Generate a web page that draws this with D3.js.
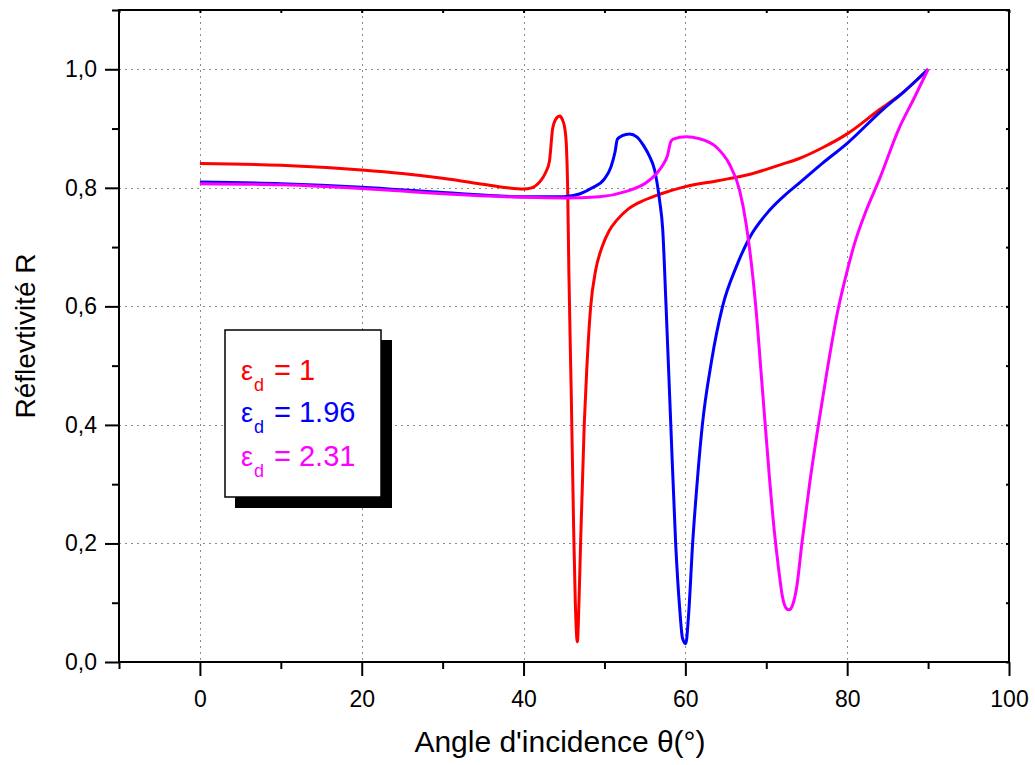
<!DOCTYPE html>
<html>
<head>
<meta charset="utf-8">
<script src="https://cdn.jsdelivr.net/npm/d3@7"></script>
<style>
  html, body { margin: 0; padding: 0; background: #fff; }
  svg { display: block; font-family: "Liberation Sans", Arial, sans-serif; }
</style>
</head>
<body>
<svg id="chart" width="1035" height="765"></svg>
<script>
// ---- Data ----
const thetaRed = [0, 10, 20, 25, 30, 35, 38, 40, 41, 42, 42.7, 43.2, 43.6, 44.1, 44.5, 44.8, 45.1, 45.3, 45.45, 45.6, 45.9, 46.2, 46.4, 46.65, 46.85, 47.05, 47.5, 47.8, 48.3, 48.9, 49.7, 50.6, 51.5, 53, 54.9, 57, 60, 64, 68, 72, 74, 77, 80, 84, 87, 90];
const rRed     = [0.841, 0.838, 0.830, 0.824, 0.816, 0.806, 0.800, 0.798, 0.800, 0.810, 0.825, 0.845, 0.900, 0.918, 0.921, 0.915, 0.900, 0.870, 0.800, 0.660, 0.450, 0.220, 0.100, 0.034, 0.100, 0.200, 0.400, 0.490, 0.600, 0.660, 0.700, 0.728, 0.745, 0.765, 0.779, 0.790, 0.802, 0.812, 0.823, 0.840, 0.849, 0.868, 0.891, 0.932, 0.962, 1.000];

const thetaBlue = [0, 10, 20, 30, 40, 45, 47, 48.5, 50, 50.8, 51.3, 51.6, 52.2, 53.1, 54.0, 54.8, 55.5, 56.2, 56.8, 57.2, 57.6, 58.2, 58.8, 59.3, 59.65, 60.05, 60.4, 60.9, 61.5, 62.1, 63.2, 64.6, 66.3, 67.9, 70.4, 72.5, 74, 77, 80, 84.4, 87, 90];
const rBlue     = [0.810, 0.807, 0.801, 0.792, 0.785, 0.785, 0.790, 0.800, 0.815, 0.835, 0.860, 0.882, 0.888, 0.891, 0.886, 0.872, 0.855, 0.830, 0.780, 0.730, 0.605, 0.400, 0.200, 0.090, 0.040, 0.031, 0.080, 0.200, 0.310, 0.400, 0.505, 0.600, 0.667, 0.715, 0.762, 0.790, 0.807, 0.842, 0.875, 0.932, 0.962, 1.000];

const thetaMagenta = [0, 10, 20, 30, 40, 45, 49.4, 52.7, 55.1, 56.5, 57.2, 57.8, 58.2, 58.5, 60.1, 61.7, 63.8, 65.4, 66.7, 67.5, 68.7, 69.5, 70.4, 71.0, 71.5, 72.0, 72.5, 72.8, 73.3, 73.8, 74.4, 75.4, 76.5, 77.5, 78.8, 80, 81, 82.3, 84, 86.4, 88.3, 90];
const rMagenta     = [0.807, 0.805, 0.799, 0.790, 0.784, 0.783, 0.785, 0.794, 0.808, 0.825, 0.838, 0.855, 0.878, 0.882, 0.886, 0.883, 0.869, 0.841, 0.796, 0.740, 0.600, 0.464, 0.310, 0.220, 0.160, 0.110, 0.090, 0.088, 0.098, 0.130, 0.200, 0.305, 0.405, 0.490, 0.590, 0.660, 0.710, 0.760, 0.815, 0.900, 0.952, 1.000];

const seriesNames  = ["1", "1.96", "2.31"];
const seriesColors = ["#ff0000", "#0000ff", "#ff00ff"];

const xMajorTicks = [0, 20, 40, 60, 80, 100];
const xMinorTicks = [-10, 10, 30, 50, 70, 90];
const yMajorTicks = [0, 0.2, 0.4, 0.6, 0.8, 1.0];
const yMinorTicks = [0.1, 0.3, 0.5, 0.7, 0.9, 1.1];
const yTickLabels = ["0,0", "0,2", "0,4", "0,6", "0,8", "1,0"];

const xTitle = "Angle d'incidence θ(°)";
const yTitle = "Réflevtivité R";

// ---- Layout ----
const svg = d3.select("#chart");
const L = 119, R = 1009, T = 10, B = 662;

const x = d3.scaleLinear().domain([-10, 100]).range([L, R]);
const y = d3.scaleLinear().domain([0, 1.1]).range([B, T]);

// grid
const grid = svg.append("g").attr("stroke", "#8a8a8a").attr("stroke-width", 1).attr("stroke-dasharray", "2,4");
grid.selectAll("line.vx").data(xMajorTicks.filter(d => d > -10 && d < 100)).enter().append("line")
  .attr("x1", d => Math.round(x(d)) + 0.5).attr("x2", d => Math.round(x(d)) + 0.5)
  .attr("y1", T).attr("y2", B);
grid.selectAll("line.hy").data(yMajorTicks.filter(d => d > 0)).enter().append("line")
  .attr("y1", d => Math.round(y(d)) + 0.5).attr("y2", d => Math.round(y(d)) + 0.5)
  .attr("x1", L).attr("x2", R);

// curves
const xs = [thetaRed, thetaBlue, thetaMagenta];
const ys = [rRed, rBlue, rMagenta];
const line = d3.line().x(d => x(d[0])).y(d => y(d[1])).curve(d3.curveMonotoneX);
[0, 1, 2].forEach(i => {
  const pts = xs[i].map((t, j) => [t, ys[i][j]]);
  svg.append("path").datum(pts)
    .attr("fill", "none").attr("stroke", seriesColors[i])
    .attr("stroke-width", 3).attr("stroke-linejoin", "round")
    .attr("d", line);
});

// axes
svg.append("g").attr("transform", `translate(0,${B})`)
  .call(d3.axisBottom(x).tickValues(xMajorTicks).tickSize(14).tickPadding(15).tickFormat(d3.format("d")));
svg.append("g").attr("transform", `translate(0,${B})`)
  .call(d3.axisBottom(x).tickValues(xMinorTicks).tickSize(7).tickFormat(""));
svg.append("g").attr("transform", `translate(${L},0)`)
  .call(d3.axisLeft(y).tickValues(yMajorTicks).tickSize(14).tickPadding(8).tickFormat((d, i) => yTickLabels[i]));
svg.append("g").attr("transform", `translate(${L},0)`)
  .call(d3.axisLeft(y).tickValues(yMinorTicks).tickSize(7).tickFormat(""));
svg.append("g").attr("transform", `translate(0,${T})`)
  .call(d3.axisBottom(x).tickValues(xMajorTicks.concat(xMinorTicks)).tickSize(3).tickFormat(""));
svg.append("g").attr("transform", `translate(${R},0)`)
  .call(d3.axisLeft(y).tickValues(yMajorTicks.concat(yMinorTicks)).tickSize(3).tickFormat(""));

svg.selectAll(".domain").remove();
svg.selectAll(".tick line").attr("stroke", "#000").attr("stroke-width", 2);
svg.selectAll(".tick text").attr("font-family", "Liberation Sans, Arial, sans-serif").attr("font-size", 23).attr("fill", "#000");

// frame
svg.append("rect").attr("x", L).attr("y", T).attr("width", R - L).attr("height", B - T)
  .attr("fill", "none").attr("stroke", "#000").attr("stroke-width", 2);

// axis titles
svg.append("text").attr("x", 560).attr("y", 752).attr("text-anchor", "middle")
  .attr("font-size", 30).attr("fill", "#000").text(xTitle);
svg.append("text").attr("transform", `translate(35,336) rotate(-90)`).attr("text-anchor", "middle")
  .attr("font-size", 28).attr("fill", "#000").text(yTitle);

// legend
const lg = svg.append("g");
lg.append("rect").attr("x", 235).attr("y", 340).attr("width", 157).attr("height", 168).attr("fill", "#000");
lg.append("rect").attr("x", 225).attr("y", 330).attr("width", 156).attr("height", 167)
  .attr("fill", "#fff").attr("stroke", "#000").attr("stroke-width", 1.5);
const baseY = [380, 422, 466];
seriesNames.forEach((n, i) => {
  const g = lg.append("g").attr("fill", seriesColors[i]);
  g.append("text").attr("x", 241).attr("y", baseY[i]).attr("font-size", 27).text("ε");
  g.append("text").attr("x", 254).attr("y", baseY[i] + 11).attr("font-size", 18).text("d");
  g.append("text").attr("x", 274).attr("y", baseY[i]).attr("font-size", 29).text("= " + n);
});
</script>
</body>
</html>
